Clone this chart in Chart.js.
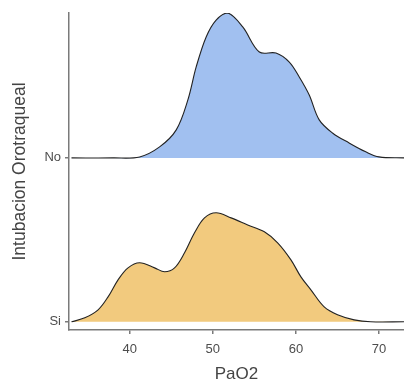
<!DOCTYPE html>
<html>
<head>
<meta charset="utf-8">
<script src="https://cdn.jsdelivr.net/npm/chart.js@4.4.1/dist/chart.umd.min.js"></script>
<style>
  html, body { margin: 0; padding: 0; background: #fff; }
  #wrap { width: 404px; height: 385px; }
</style>
</head>
<body>
<div id="wrap"><canvas id="chart" width="404" height="385"></canvas></div>
<script>
// ridge categories (bottom to top) and their baselines on the y scale
const categories = ['Si', 'No'];
const baselines = [1, 2];

// PaO2 positions, with ridge heights in category units
const noPaO2 = [33, 38, 41.2, 43.6, 45.6, 47, 48, 49.2, 50.4, 51.8, 53.6, 55.6, 57.6, 59.2, 60.4, 61.6, 62.8, 64.4, 66.4, 68.4, 70, 73];
const noHeight = [0, 0, 0.006, 0.067, 0.171, 0.354, 0.555, 0.738, 0.841, 0.884, 0.799, 0.646, 0.640, 0.585, 0.494, 0.384, 0.232, 0.152, 0.091, 0.037, 0.006, 0];

const siPaO2 = [33, 34.6, 36.2, 37.4, 38.6, 39.8, 41.2, 43, 44.2, 45.4, 46.6, 47.8, 49, 50.4, 52.2, 54.2, 56.2, 57.8, 59.4, 60.6, 61.8, 63.4, 65, 67, 69, 73];
const siHeight = [0, 0.024, 0.073, 0.152, 0.256, 0.329, 0.360, 0.329, 0.305, 0.329, 0.421, 0.543, 0.634, 0.665, 0.634, 0.591, 0.549, 0.482, 0.378, 0.274, 0.195, 0.091, 0.043, 0.012, 0, 0];

const xTicks = [40, 50, 60, 70];

function ridge(xs, hs, base) {
    return xs.map((x, i) => ({ x: x, y: base + hs[i] }));
}

const axisGrey = '#7a7a7a';
const textGrey = '#4d4d4d';
const fontFamily = 'Liberation Sans, Arial, sans-serif';

new Chart(document.getElementById('chart'), {
    type: 'line',
    data: {
        datasets: [
            {
                label: 'Si',
                data: ridge(siPaO2, siHeight, baselines[0]),
                borderColor: '#222',
                borderWidth: 1.1,
                backgroundColor: '#f2ca7e',
                fill: { value: baselines[0] },
                pointRadius: 0,
                tension: 0.35
            },
            {
                label: 'No',
                data: ridge(noPaO2, noHeight, baselines[1]),
                borderColor: '#222',
                borderWidth: 1.1,
                backgroundColor: '#a1c0f0',
                fill: { value: baselines[1] },
                pointRadius: 0,
                tension: 0.35
            }
        ]
    },
    options: {
        responsive: false,
        animation: false,
        layout: { padding: { top: 13, right: 0, left: 0, bottom: 0 } },
        plugins: { legend: { display: false }, tooltip: { enabled: false } },
        scales: {
            x: {
                type: 'linear',
                min: 32.7,
                max: 73,
                afterBuildTicks: (s) => { s.ticks = xTicks.map(v => ({ value: v })); },
                afterFit: (s) => { s.height = 55; },
                border: { color: axisGrey, width: 1.5 },
                grid: { drawOnChartArea: false, drawTicks: true, tickLength: 4, color: axisGrey, lineWidth: 1.5 },
                ticks: {
                    color: textGrey,
                    padding: 8,
                    maxRotation: 0,
                    font: { family: fontFamily, size: 13 }
                },
                title: {
                    display: true,
                    text: 'PaO2',
                    color: '#444',
                    padding: { top: 4, bottom: 0 },
                    font: { family: fontFamily, size: 17 }
                }
            },
            y: {
                type: 'linear',
                min: 0.95,
                max: 2.884,
                afterBuildTicks: (s) => { s.ticks = baselines.map(v => ({ value: v })); },
                afterFit: (s) => { s.width = 69; },
                border: { color: axisGrey, width: 1.5 },
                grid: { drawOnChartArea: false, drawTicks: true, tickLength: 4, color: axisGrey, lineWidth: 1.5 },
                ticks: {
                    color: textGrey,
                    padding: 4,
                    font: { family: fontFamily, size: 13 },
                    callback: (v) => categories[baselines.indexOf(v)]
                },
                title: {
                    display: true,
                    text: 'Intubacion Orotraqueal',
                    color: '#444',
                    padding: { top: 10, bottom: 0 },
                    font: { family: fontFamily, size: 17.5 }
                }
            }
        }
    }
});
</script>
</body>
</html>
